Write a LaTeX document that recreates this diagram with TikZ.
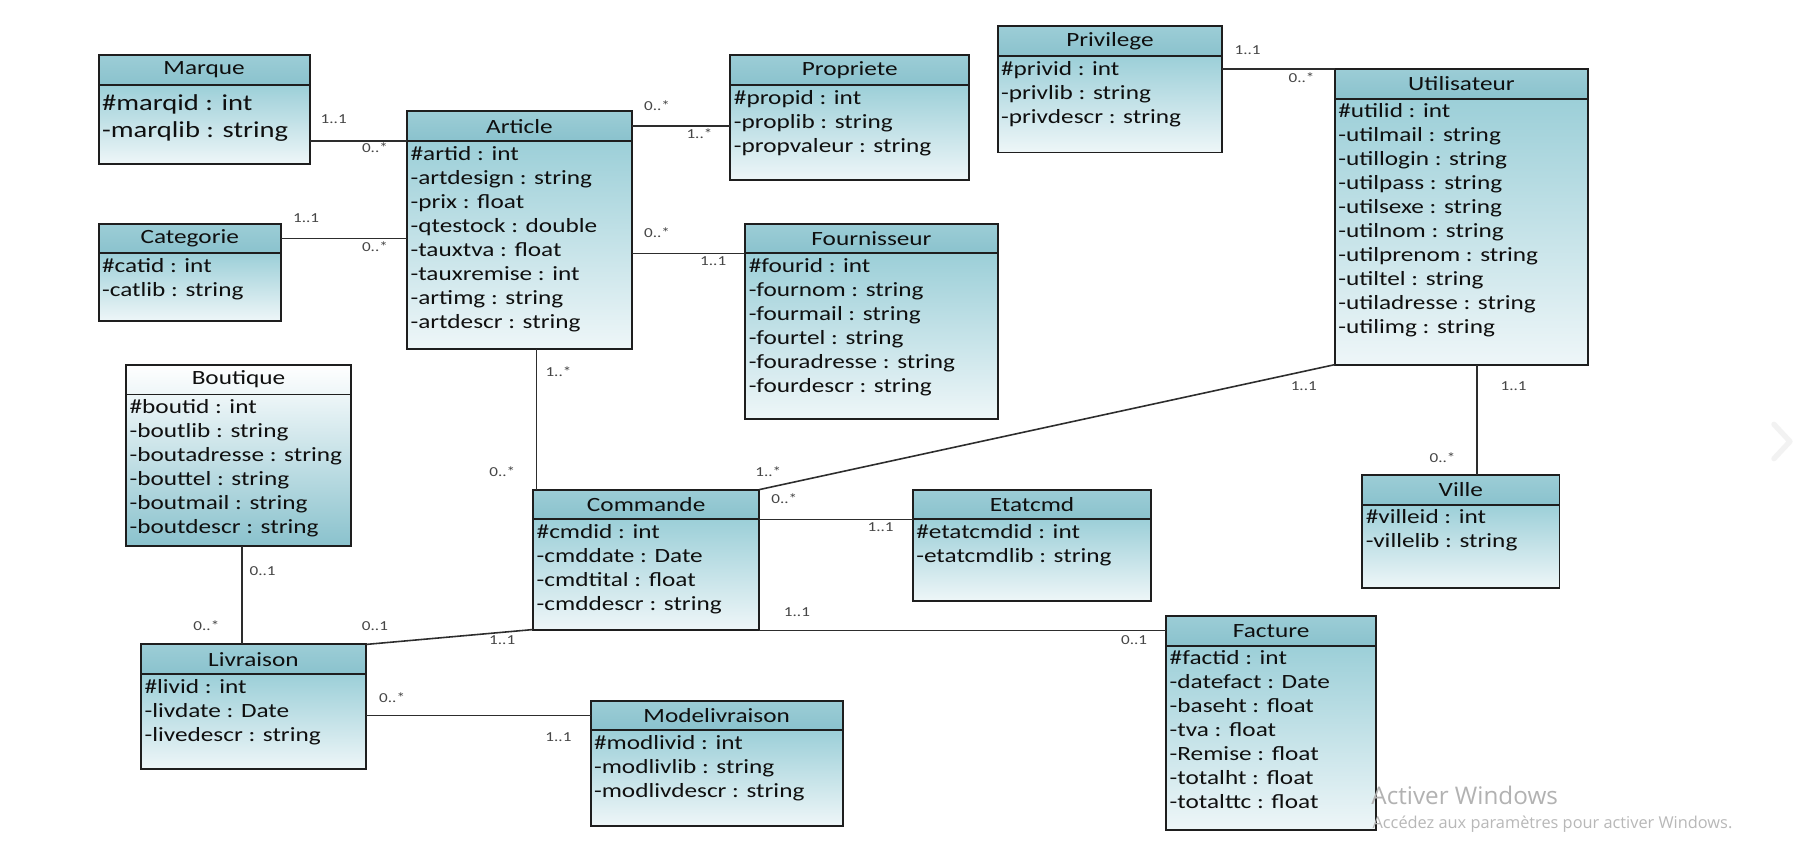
\documentclass[tikz,border=0pt]{standalone}
\usepackage{fontspec}
\usepackage{tikz}

\newfontfamily\calfont{Carlito}[FakeStretch=1.25]
\newfontfamily\winfont{Open Sans}
\newlength\upx
\setlength\upx{0.22934mm}
\definecolor{hdtop}{RGB}{156,205,214}
\definecolor{hdbot}{RGB}{138,194,205}
\definecolor{bdtop}{RGB}{156,207,216}
\definecolor{bdbot}{RGB}{238,246,248}
\definecolor{boxline}{RGB}{30,30,30}
\definecolor{lncol}{RGB}{45,45,45}
\definecolor{txt}{RGB}{15,15,15}
\definecolor{mulcol}{RGB}{70,70,70}

\begin{document}
\begin{tikzpicture}[x=0.22934mm, y=-0.22934mm,
  every node/.style={outer sep=0pt},
  hd/.style={draw=boxline, line width=1.1pt, top color=hdtop, bottom color=hdbot, minimum height=26*\upx, inner sep=0pt, text=txt, font=\calfont\fontsize{11.5}{13.65}\selectfont},
  bd/.style={draw=boxline, line width=1.1pt, top color=bdtop, bottom color=bdbot, inner sep=0pt, anchor=north},
  att/.style={anchor=north west, align=left, inner xsep=2pt, inner ysep=3pt, text=txt, font=\calfont\fontsize{11.5}{13.65}\selectfont},
  mul/.style={inner sep=0pt, text=mulcol, font=\calfont\fontsize{7.8}{9}\selectfont},
  ln/.style={draw=lncol, line width=0.9pt}]
\useasboundingbox (0,0) rectangle (1568,734);
\fill[white] (0,0) rectangle (1568,734);

\node[hd, minimum width=184*\upx] (marque) at (178,61) {Marque};
\node[bd, minimum width=184*\upx, minimum height=69*\upx] (marqueB) at (marque.south) {};
\node[att, inner ysep=5.5pt, font=\calfont\fontsize{13}{15.6}\selectfont] (marqueA) at (marqueB.north west) {\#marqid : int\\-marqlib : string};

\node[hd, minimum width=196*\upx] (article) at (453,110) {Article};
\node[bd, minimum width=196*\upx, minimum height=181*\upx] (articleB) at (article.south) {};
\node[att] (articleA) at (articleB.north west) {\#artid : int\\-artdesign : string\\-prix : float\\-qtestock : double\\-tauxtva : float\\-tauxremise : int\\-artimg : string\\-artdescr : string};

\node[hd, minimum width=208*\upx] (propriete) at (741,61) {Propriete};
\node[bd, minimum width=208*\upx, minimum height=83*\upx] (proprieteB) at (propriete.south) {};
\node[att] (proprieteA) at (proprieteB.north west) {\#propid : int\\-proplib : string\\-propvaleur : string};

\node[hd, minimum width=196*\upx] (privilege) at (968,36) {Privilege};
\node[bd, minimum width=196*\upx, minimum height=84*\upx] (privilegeB) at (privilege.south) {};
\node[att] (privilegeA) at (privilegeB.north west) {\#privid : int\\-privlib : string\\-privdescr : string};

\node[hd, minimum width=221*\upx] (utilisateur) at (1274.5,73) {Utilisateur};
\node[bd, minimum width=221*\upx, minimum height=232*\upx] (utilisateurB) at (utilisateur.south) {};
\node[att] (utilisateurA) at (utilisateurB.north west) {\#utilid : int\\-utilmail : string\\-utillogin : string\\-utilpass : string\\-utilsexe : string\\-utilnom : string\\-utilprenom : string\\-utiltel : string\\-utiladresse : string\\-utilimg : string};

\node[hd, minimum width=159*\upx] (categorie) at (165.5,208) {Categorie};
\node[bd, minimum width=159*\upx, minimum height=59*\upx] (categorieB) at (categorie.south) {};
\node[att] (categorieA) at (categorieB.north west) {\#catid : int\\-catlib : string};

\node[hd, minimum width=220*\upx] (fournisseur) at (760,208) {Fournisseur};
\node[bd, minimum width=220*\upx, minimum height=144*\upx] (fournisseurB) at (fournisseur.south) {};
\node[att] (fournisseurA) at (fournisseurB.north west) {\#fourid : int\\-fournom : string\\-fourmail : string\\-fourtel : string\\-fouradresse : string\\-fourdescr : string};

\node[hd, minimum width=196*\upx, top color=white, bottom color=bdbot] (boutique) at (208,331) {Boutique};
\node[bd, minimum width=196*\upx, minimum height=132*\upx, top color=bdbot, bottom color=hdbot] (boutiqueB) at (boutique.south) {};
\node[att] (boutiqueA) at (boutiqueB.north west) {\#boutid : int\\-boutlib : string\\-boutadresse : string\\-bouttel : string\\-boutmail : string\\-boutdescr : string};

\node[hd, minimum width=197*\upx] (commande) at (563.5,440) {Commande};
\node[bd, minimum width=197*\upx, minimum height=96*\upx] (commandeB) at (commande.south) {};
\node[att] (commandeA) at (commandeB.north west) {\#cmdid : int\\-cmddate : Date\\-cmdtital : float\\-cmddescr : string};

\node[hd, minimum width=208*\upx] (etatcmd) at (900,440) {Etatcmd};
\node[bd, minimum width=208*\upx, minimum height=71*\upx] (etatcmdB) at (etatcmd.south) {};
\node[att] (etatcmdA) at (etatcmdB.north west) {\#etatcmdid : int\\-etatcmdlib : string};

\node[hd, minimum width=172*\upx] (ville) at (1274,427) {Ville};
\node[bd, minimum width=172*\upx, minimum height=73*\upx] (villeB) at (ville.south) {};
\node[att] (villeA) at (villeB.north west) {\#villeid : int\\-villelib : string};

\node[hd, minimum width=196*\upx] (livraison) at (221,575) {Livraison};
\node[bd, minimum width=196*\upx, minimum height=83*\upx] (livraisonB) at (livraison.south) {};
\node[att] (livraisonA) at (livraisonB.north west) {\#livid : int\\-livdate : Date\\-livedescr : string};

\node[hd, minimum width=220*\upx] (modelivraison) at (625,624) {Modelivraison};
\node[bd, minimum width=220*\upx, minimum height=83*\upx] (modelivraisonB) at (modelivraison.south) {};
\node[att] (modelivraisonA) at (modelivraisonB.north west) {\#modlivid : int\\-modlivlib : string\\-modlivdescr : string};

\node[hd, minimum width=183*\upx] (facture) at (1108.5,550) {Facture};
\node[bd, minimum width=183*\upx, minimum height=161*\upx] (factureB) at (facture.south) {};
\node[att] (factureA) at (factureB.north west) {\#factid : int\\-datefact : Date\\-baseht : float\\-tva : float\\-Remise : float\\-totalht : float\\-totalttc : float};

\draw[ln] (marqueB.east |- articleB.north west) -- (articleB.north west);
\draw[ln] (categorie.east) -- (categorie.east -| articleB.west);
\draw[ln] (article.east) -- (article.east -| proprieteB.west);
\draw[ln] (articleB.east |- fournisseurB.north west) -- (fournisseurB.north west);
\draw[ln] ([xshift=3*\upx]commande.north west) -- ([xshift=3*\upx]commande.north west |- articleB.south);
\draw[ln] (privilegeB.east |- utilisateur.north west) -- (utilisateur.north west);
\draw[ln] (utilisateurB.south west) -- (commande.north east);
\draw[ln] (commandeB.north east) -- (etatcmdB.north west);
\draw[ln] ([xshift=14*\upx]ville.north) -- ([xshift=14*\upx]ville.north |- utilisateurB.south);
\draw[ln] (commandeB.east |- facture.west) -- (facture.west);
\draw[ln] ([xshift=3*\upx]boutiqueB.south) -- ([xshift=3*\upx]boutiqueB.south |- livraison.north);
\draw[ln] (livraison.north east) -- (commandeB.south west);
\draw[ln] (livraisonB.east |- modelivraison.west) -- (modelivraison.west);

\node[mul] (m1) at (291,104) {1..1};
\node[mul] (m2) at (327,129) {0..*};
\node[mul] (m3) at (267,190) {1..1};
\node[mul] (m4) at (327,215) {0..*};
\node[mul] (m5) at (573,92) {0..*};
\node[mul] (m6) at (610,117) {1..*};
\node[mul] (m7) at (573,203) {0..*};
\node[mul] (m8) at (622,228) {1..1};
\node[mul] (m9) at (487,324) {1..*};
\node[mul] (m10) at (438,411) {0..*};
\node[mul] (m11) at (1088,44) {1..1};
\node[mul] (m12) at (1135,68) {0..*};
\node[mul] (m13) at (1137,337) {1..1};
\node[mul] (m14) at (670,411) {1..*};
\node[mul] (m15) at (684,435) {0..*};
\node[mul] (m16) at (768,460) {1..1};
\node[mul] (m17) at (1320,337) {1..1};
\node[mul] (m18) at (1258,399) {0..*};
\node[mul] (m19) at (695,534) {1..1};
\node[mul] (m20) at (989,558) {0..1};
\node[mul] (m21) at (229,498) {0..1};
\node[mul] (m22) at (180,546) {0..*};
\node[mul] (m23) at (327,546) {0..1};
\node[mul] (m24) at (438,558) {1..1};
\node[mul] (m25) at (342,608) {0..*};
\node[mul] (m26) at (487,643) {1..1};

\node[anchor=west, inner sep=0pt, text=black!30, font=\winfont\fontsize{13.8}{16}\selectfont] (win1) at (1196,694) {Activer Windows};
\node[anchor=west, inner sep=0pt, text=black!28, font=\winfont\fontsize{9.3}{11}\selectfont] (win2) at (1197,719) {Accédez aux paramètres pour activer Windows.};
\draw[black!5, line width=3pt, line cap=round, line join=round] (1547,370) -- (1561,385) -- (1547,400);
\end{tikzpicture}
\end{document}
